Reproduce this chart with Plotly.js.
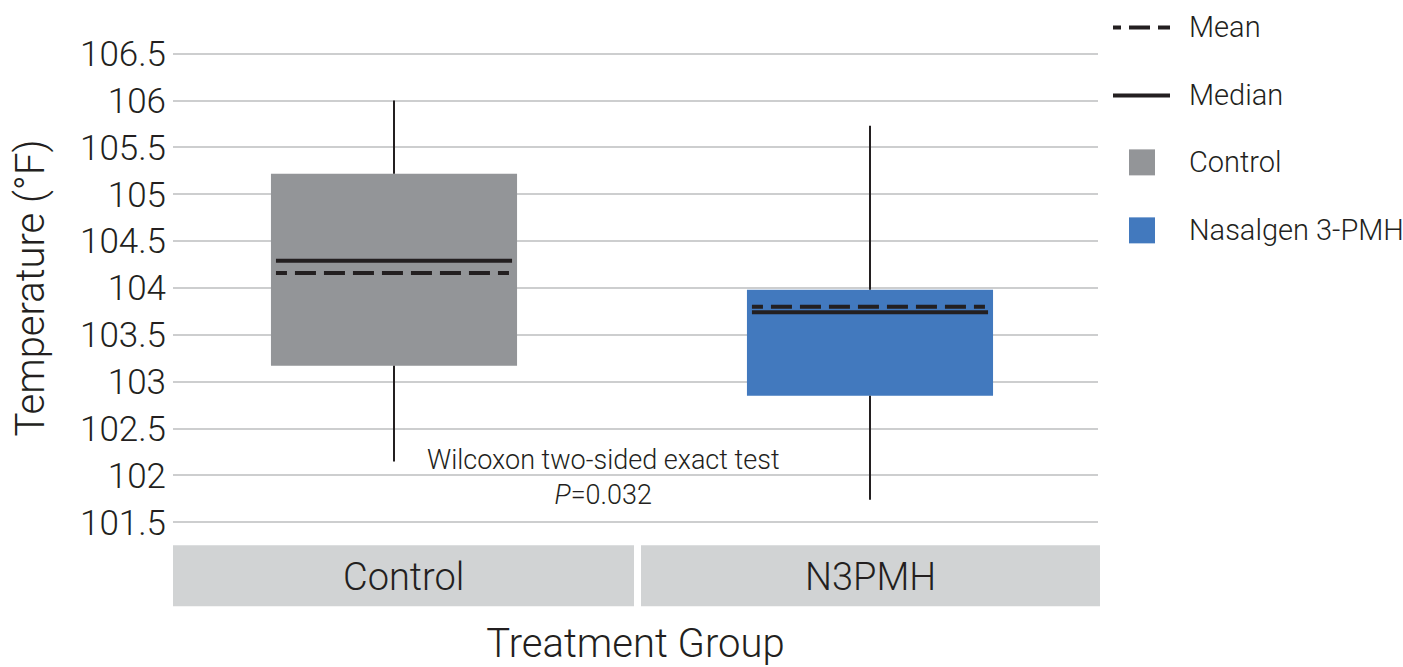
<!DOCTYPE html>
<html>
<head>
<meta charset="utf-8">
<script src="https://cdn.plot.ly/plotly-3.0.1.min.js"></script>
<style>
  html, body { margin: 0; padding: 0; background: #ffffff; }
  #chart { width: 1403px; height: 667px; }
</style>
</head>
<body>
<div id="chart"></div>
<script>
// ---- data ----
const groups = ["Control", "N3PMH"];
const legendNames = ["Control", "Nasalgen 3-PMH"];
const q1 = [103.17, 102.85];
const q3 = [105.22, 103.98];
const medians = [104.29, 103.74];
const means = [104.16, 103.80];
const lowerWhisker = [102.15, 101.74];
const upperWhisker = [106.0, 105.73];
const fillColors = ["#939598", "#4279be"];
const statTitle = "Wilcoxon two-sided exact test";
const statP = "0.032";

// ---- styling ----
const ink = "#231f20";
const fontFam = "Roboto, 'Open Sans', sans-serif";
const boxWidth = 0.517;
const lineHalf = 0.248;

const W = 1403, H = 667;
const M = {l: 173, r: 305, t: 48.6, b: 140.3};
const plotW = W - M.l - M.r, plotH = H - M.t - M.b;
const px2x = p => (p - M.l) / plotW;
const py2y = p => (H - M.b - p) / plotH;

const traces = [];
groups.forEach((g, i) => {
  traces.push({
    type: "box",
    name: legendNames[i],
    x: [i],
    q1: [q1[i]], median: [medians[i]], q3: [q3[i]],
    lowerfence: [q1[i]], upperfence: [q3[i]],
    width: boxWidth,
    fillcolor: fillColors[i],
    line: {width: 0, color: fillColors[i]},
    whiskerwidth: 0,
    boxpoints: false,
    showlegend: false,
    hoverinfo: "skip"
  });
});

// whiskers
const wx = [], wy = [];
groups.forEach((g, i) => {
  wx.push(i, i, null, i, i, null);
  wy.push(lowerWhisker[i], q1[i], null, q3[i], upperWhisker[i], null);
});
traces.push({type: "scatter", mode: "lines", x: wx, y: wy,
  line: {color: ink, width: 2}, showlegend: false, hoverinfo: "skip"});

// median & mean lines
const mx = [], my = [], ax = [], ay = [];
groups.forEach((g, i) => {
  mx.push(i - lineHalf, i + lineHalf, null);
  my.push(medians[i], medians[i], null);
  ax.push(i - lineHalf, i + lineHalf, null);
  ay.push(means[i], means[i], null);
});
traces.push({type: "scatter", mode: "lines", name: "Median", x: mx, y: my,
  line: {color: ink, width: 4}, showlegend: false, hoverinfo: "skip"});
const meanDash = "11px,8px,21px,8px,21px,8px,21px,8px,21px,8px,21px,8px,21px,8px,21px,8px,11px,40px";
traces.push({type: "scatter", mode: "lines", name: "Mean", x: ax, y: ay,
  line: {color: ink, width: 4, dash: meanDash}, showlegend: false, hoverinfo: "skip"});

// ---- decorations: facet strips, legend ----
const shapes = [];
const annotations = [];
const strips = [[173, 634], [641, 1100]];
groups.forEach((g, i) => {
  shapes.push({type: "rect", xref: "paper", yref: "paper",
    x0: px2x(strips[i][0]), x1: px2x(strips[i][1]),
    y0: py2y(606), y1: py2y(545),
    fillcolor: "#d1d3d4", line: {width: 0}, layer: "below"});
  annotations.push({xref: "paper", yref: "paper",
    x: px2x((strips[i][0] + strips[i][1]) / 2), y: py2y(577),
    xanchor: "center", yanchor: "middle", showarrow: false, text: g,
    font: {family: fontFam, size: 38, color: ink, weight: 300}});
});

// legend entries
const legRows = [27, 95, 162, 230];
const legText = ["Mean", "Median", legendNames[0], legendNames[1]];
shapes.push({type: "line", xref: "paper", yref: "paper",
  x0: px2x(1113), x1: px2x(1170), y0: py2y(legRows[0]), y1: py2y(legRows[0]),
  line: {color: ink, width: 4, dash: "8px,8px,21px,8px,12px"}});
shapes.push({type: "line", xref: "paper", yref: "paper",
  x0: px2x(1113), x1: px2x(1170), y0: py2y(legRows[1]), y1: py2y(legRows[1]),
  line: {color: ink, width: 4}});
[2, 3].forEach((r, k) => {
  shapes.push({type: "rect", xref: "paper", yref: "paper",
    x0: px2x(1129), x1: px2x(1155),
    y0: py2y(legRows[r] + 13), y1: py2y(legRows[r] - 13),
    fillcolor: fillColors[k], line: {width: 0}});
});
legRows.forEach((r, k) => {
  annotations.push({xref: "paper", yref: "paper", x: px2x(1187), y: py2y(r),
    xanchor: "left", yanchor: "middle", showarrow: false, text: legText[k],
    font: {family: fontFam, size: 29, color: ink, weight: 300}});
});

// statistical annotation
annotations.push({xref: "x", yref: "y", x: 0.441, y: 101.98,
  xanchor: "center", yanchor: "middle", showarrow: false,
  text: statTitle + "<br><i>P</i>=" + statP,
  font: {family: fontFam, size: 27, color: ink, weight: 300}});

const layout = {
  width: W, height: H,
  margin: M,
  paper_bgcolor: "#ffffff", plot_bgcolor: "#ffffff",
  showlegend: false,
  font: {family: fontFam, color: ink, weight: 300},
  xaxis: {
    type: "linear",
    range: [-0.4643, 1.479],
    showgrid: false, zeroline: false, showline: false,
    showticklabels: false, ticks: "",
    fixedrange: true,
    title: {text: "Treatment Group", standoff: 103,
      font: {family: fontFam, size: 40, color: ink, weight: 300}}
  },
  yaxis: {
    range: [101.45, 106.55],
    tick0: 101.5, dtick: 0.5,
    showgrid: true, gridcolor: "#cdcecf", gridwidth: 2,
    zeroline: false, showline: false, ticks: "",
    ticklabelstandoff: 6,
    tickfont: {family: fontFam, size: 35, color: ink, weight: 300},
    fixedrange: true,
    title: {text: "Temperature (°F)", standoff: 22,
      font: {family: fontFam, size: 40, color: ink, weight: 300}}
  },
  shapes: shapes,
  annotations: annotations
};

Plotly.newPlot("chart", traces, layout, {displayModeBar: false, staticPlot: true});
</script>
</body>
</html>
